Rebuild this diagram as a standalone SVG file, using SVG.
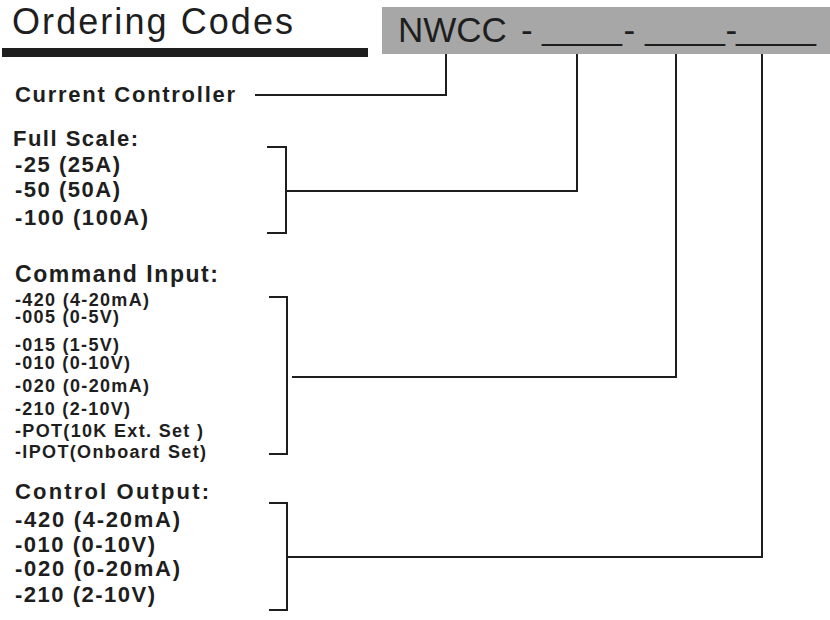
<svg xmlns="http://www.w3.org/2000/svg" width="830" height="620" viewBox="0 0 830 620">
<style>
.t{font-family:"Liberation Sans",Arial,sans-serif;fill:#1e1e1e}
.h{font-size:22px;font-weight:bold}
.s{font-size:18px;font-weight:bold}
.u{font-size:28.8px}
.c{fill:none;stroke:#1e1e1e;stroke-width:2}
</style>
<rect width="830" height="620" fill="#fff"/>
<g id="title">
<text class="t" x="12" y="34" font-size="36" textLength="281">Ordering Codes</text>
<rect x="2" y="48" width="366" height="9" fill="#1e1e1e"/>
</g>
<g id="code">
<rect x="382" y="7" width="448" height="47" fill="#a7a7a7"/>
<text class="t" font-size="35" y="42"><tspan x="398">NWCC</tspan><tspan x="521">-</tspan><tspan class="u" x="542" y="40">_____</tspan><tspan x="623.5" y="42">-</tspan><tspan class="u" x="645" y="40">_____</tspan><tspan x="725.5" y="42">-</tspan><tspan class="u" x="736" y="40">_____</tspan></text>
</g>
<g id="current-controller">
<text class="t h" x="15" y="102" textLength="220">Current Controller</text>
</g>
<g id="full-scale">
<text class="t h" x="13" y="146" textLength="125">Full Scale:</text>
<text class="t h" x="15" y="172" textLength="105">-25 (25A)</text>
<text class="t h" x="15" y="197" textLength="105">-50 (50A)</text>
<text class="t h" x="15" y="225" textLength="133">-100 (100A)</text>
</g>
<g id="command-input">
<text class="t" x="15" y="281.5" font-size="23" font-weight="bold" textLength="203">Command Input:</text>
<text class="t s" x="15" y="305.5" textLength="134">-420 (4-20mA)</text>
<text class="t s" x="15" y="323" textLength="104">-005 (0-5V)</text>
<text class="t s" x="15" y="350.5" textLength="104">-015 (1-5V)</text>
<text class="t s" x="15" y="369" textLength="115">-010 (0-10V)</text>
<text class="t s" x="15" y="392" textLength="134">-020 (0-20mA)</text>
<text class="t s" x="15" y="415" textLength="115">-210 (2-10V)</text>
<text class="t s" x="15" y="436.5" textLength="188">-POT(10K Ext. Set )</text>
<text class="t s" x="15" y="458" textLength="191">-IPOT(Onboard Set)</text>
</g>
<g id="control-output">
<text class="t h" x="15" y="499" textLength="194">Control Output:</text>
<text class="t h" x="15" y="527" textLength="165">-420 (4-20mA)</text>
<text class="t h" x="15" y="551.5" textLength="140">-010 (0-10V)</text>
<text class="t h" x="15" y="576" textLength="165">-020 (0-20mA)</text>
<text class="t h" x="15" y="602" textLength="140">-210 (2-10V)</text>
</g>
<g id="connectors">
<polyline class="c" points="446,54 446,95 255,95"/>
<polyline class="c" points="577,54 577,191 286,191"/>
<polyline class="c" points="267,147 286,147 286,233 267,233"/>
<polyline class="c" points="676,54 676,377 292,377"/>
<polyline class="c" points="269,297 287,297 287,454 269,454"/>
<polyline class="c" points="762,54 762,557 287,557"/>
<polyline class="c" points="269,503 287,503 287,610 269,610"/>
</g>
</svg>
